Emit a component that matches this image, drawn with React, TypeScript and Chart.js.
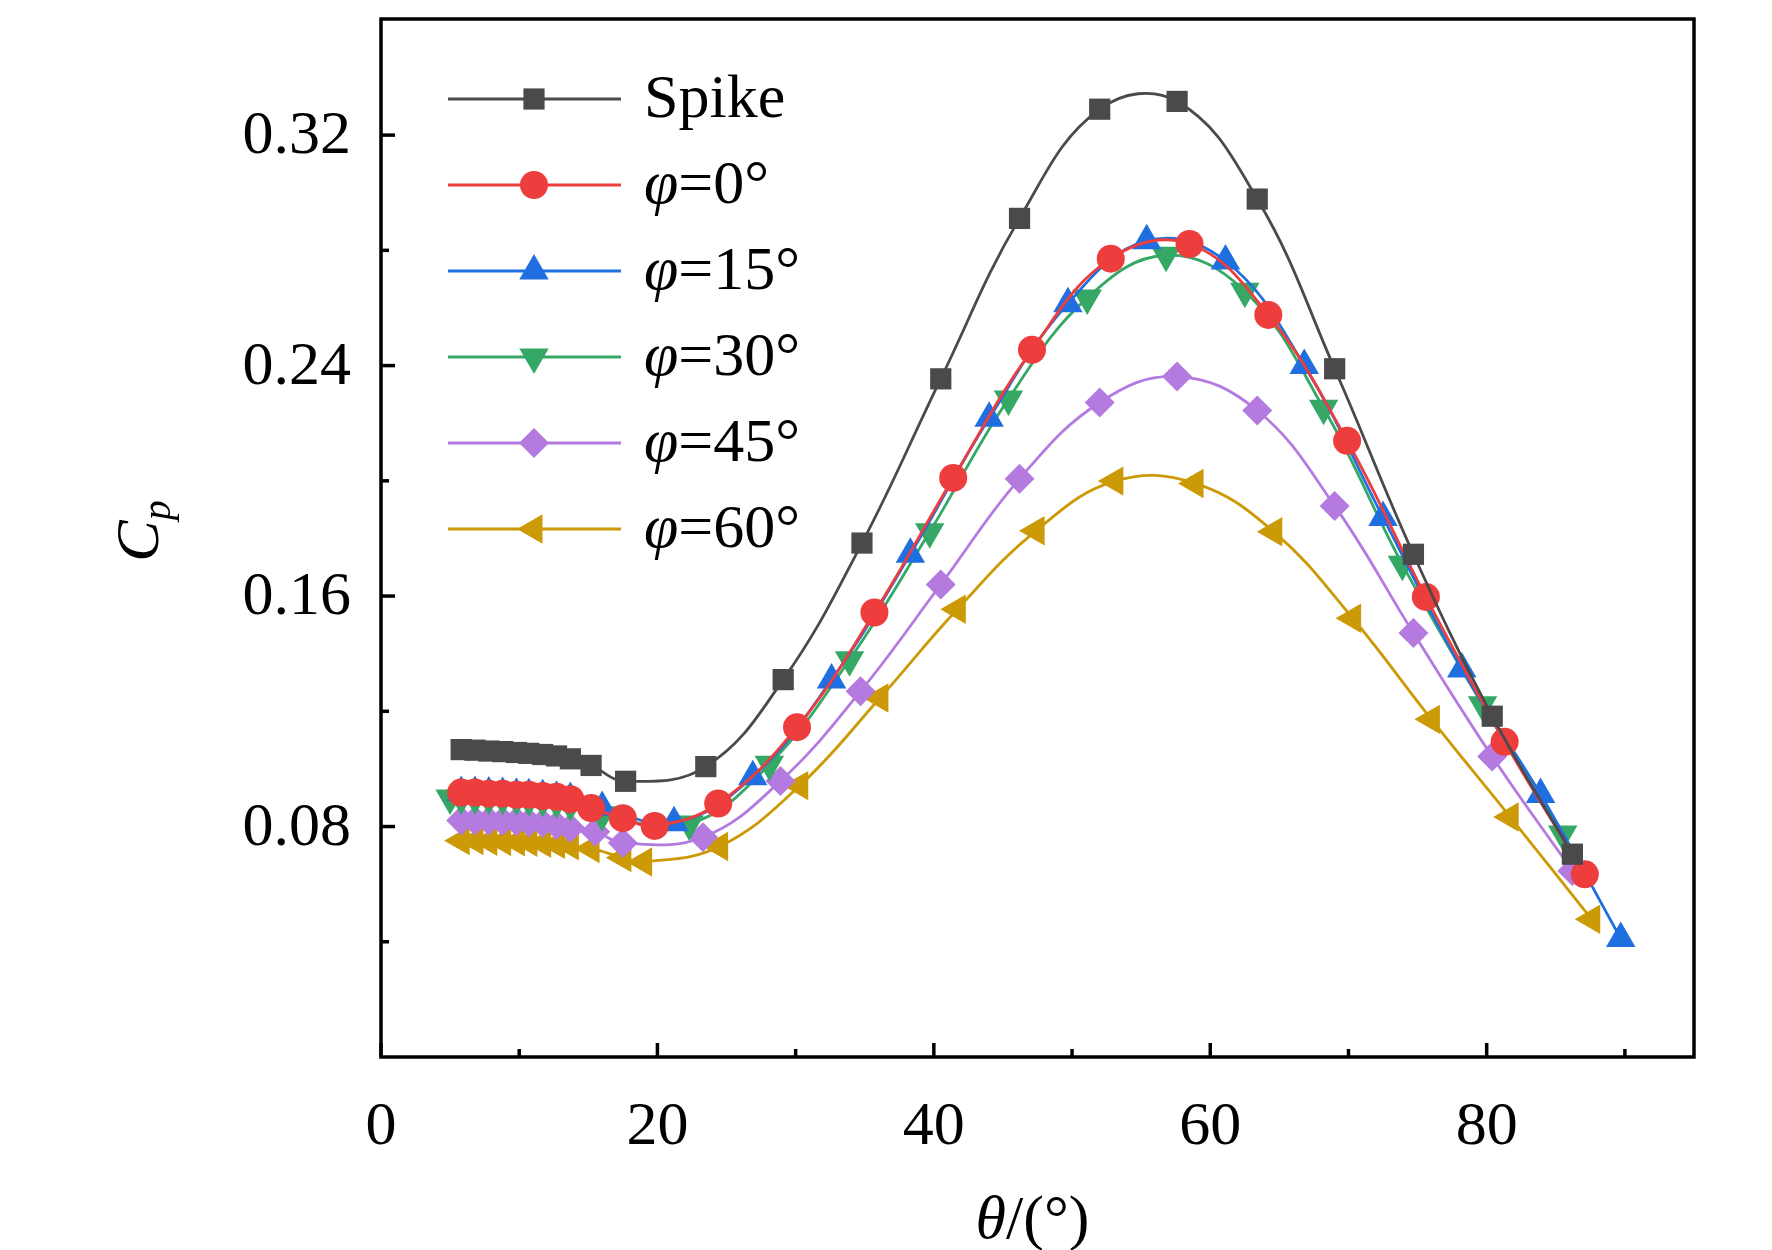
import React, { useEffect, useRef } from "react";
import { Chart, registerables } from "chart.js";
import { drawPoint } from "chart.js/helpers";
Chart.register(...registerables);

const early = [5.8, 6.8, 7.8, 8.8, 9.8, 10.7, 11.7, 12.7, 13.7];
const spikeX = [...early, 15.2, 17.7, 23.5, 29.1, 34.8, 40.5, 46.2, 52, 57.6, 63.4, 69, 74.7, 80.4, 86.2];
const spikeY = [0.1067, 0.1065, 0.1062, 0.106, 0.1057, 0.1054, 0.105, 0.1045, 0.1035, 0.1012, 0.0957, 0.1008, 0.131, 0.1784, 0.2354, 0.2911, 0.329, 0.3317, 0.2978, 0.2389, 0.1745, 0.1183, 0.0704];
const p0X = [...early, 15.2, 17.5, 19.8, 24.4, 30.1, 35.7, 41.4, 47.1, 52.8, 58.5, 64.2, 69.9, 75.6, 81.3, 87.1];
const p0Y = [0.0918, 0.0918, 0.0914, 0.0914, 0.091, 0.091, 0.0906, 0.0903, 0.0895, 0.0864, 0.0829, 0.0802, 0.088, 0.1145, 0.1543, 0.201, 0.2455, 0.2771, 0.2822, 0.2576, 0.2139, 0.1597, 0.1094, 0.0634];
const p15X = [...early, 16, 21.2, 26.9, 32.6, 38.3, 44, 49.7, 55.4, 61.1, 66.8, 72.5, 78.2, 83.9, 89.7];
const p15Y = [0.0918, 0.0918, 0.0916, 0.0915, 0.0912, 0.091, 0.0907, 0.0902, 0.0897, 0.0866, 0.0813, 0.0973, 0.1309, 0.1745, 0.2217, 0.2615, 0.2833, 0.2763, 0.24, 0.1873, 0.1347, 0.0911, 0.0411];
const p30X = [5, ...early, 16, 22.3, 28.1, 33.9, 39.7, 45.4, 51.1, 56.8, 62.5, 68.2, 73.9, 79.7, 85.5];
const p30Y = [0.0899, 0.0899, 0.0899, 0.0898, 0.0897, 0.0896, 0.0893, 0.089, 0.0885, 0.0876, 0.0841, 0.0809, 0.1016, 0.1379, 0.1823, 0.2284, 0.2635, 0.2783, 0.2658, 0.2252, 0.171, 0.1223, 0.0774];
const p45X = [...early, 15.5, 17.5, 23.3, 28.9, 34.7, 40.5, 46.2, 52, 57.6, 63.4, 69, 74.7, 80.4, 86.2];
const p45Y = [0.0821, 0.0821, 0.082, 0.0819, 0.0818, 0.0815, 0.0812, 0.0805, 0.0795, 0.0782, 0.0743, 0.0763, 0.0958, 0.127, 0.164, 0.2007, 0.2272, 0.2362, 0.2244, 0.1913, 0.1472, 0.1043, 0.0646];
const p60X = [...early, 15.2, 17.5, 19.0, 24.5, 30.3, 36.1, 41.7, 47.4, 53.1, 58.9, 64.6, 70.3, 76, 81.7, 87.6];
const p60Y = [0.0751, 0.0751, 0.0749, 0.0748, 0.0747, 0.0745, 0.0742, 0.0738, 0.0733, 0.0724, 0.0692, 0.0677, 0.0731, 0.0942, 0.1246, 0.1554, 0.1827, 0.1999, 0.1991, 0.1823, 0.1523, 0.1172, 0.0833, 0.0478];

const labels = ["Spike", "φ=0°", "φ=15°", "φ=30°", "φ=45°", "φ=60°"];
const colors = ["#4a4a4a", "#ee3d3d", "#1f6fe0", "#35a866", "#b47ae0", "#cc9a06"];
const styles = ["rect", "circle", "triangle", "triangle", "rectRot", "triangle"];
const rots = [0, 0, 0, 180, 0, -90];
const radii = [15, 14, 17, 17, 15, 17];
const xs = [spikeX, p0X, p15X, p30X, p45X, p60X];
const ys = [spikeY, p0Y, p15Y, p30Y, p45Y, p60Y];

const yTicks = [0.08, 0.16, 0.24, 0.32];
const yMinor = [0.04, 0.12, 0.2, 0.28];
const xTicks = [0, 20, 40, 60, 80];
const xMinor = [10, 30, 50, 70, 90];

const FONT = "'Liberation Serif', 'Times New Roman', serif";
const FS = 62;

export default function App() {
  const ref = useRef<HTMLCanvasElement>(null);
  useEffect(() => {
    const deco = {
      id: "deco",
      afterDraw(c: any) {
        const ctx = c.ctx;
        const a = c.chartArea;
        const xs_ = c.scales.x, ys_ = c.scales.y;
        ctx.save();
        ctx.strokeStyle = "#000";
        ctx.lineWidth = 3.5;
        ctx.strokeRect(a.left, a.top + 2, a.right - a.left, a.bottom - a.top - 2);
        const tick = (x1: number, y1: number, x2: number, y2: number) => {
          ctx.beginPath(); ctx.moveTo(x1, y1); ctx.lineTo(x2, y2); ctx.stroke();
        };
        ctx.fillStyle = "#000";
        ctx.font = `${FS}px ${FONT}`;
        yTicks.forEach(v => {
          const y = ys_.getPixelForValue(v); tick(a.left, y, a.left + 14, y);
          ctx.textAlign = "right"; ctx.textBaseline = "middle";
          ctx.fillText(v.toFixed(2), a.left - 30, y + 2);
        });
        yMinor.forEach(v => { const y = ys_.getPixelForValue(v); tick(a.left, y, a.left + 8, y); });
        xTicks.forEach(v => {
          const x = xs_.getPixelForValue(v); tick(x, a.bottom, x, a.bottom - 14);
          ctx.textAlign = "center"; ctx.textBaseline = "top";
          ctx.fillText(String(v), x, a.bottom + 40);
        });
        xMinor.forEach(v => { const x = xs_.getPixelForValue(v); tick(x, a.bottom, x, a.bottom - 8); });
        ctx.textAlign = "left";
        ctx.textBaseline = "alphabetic";
        ctx.font = `italic ${FS}px ${FONT}`;
        const w1 = ctx.measureText("θ").width;
        ctx.font = `${FS}px ${FONT}`;
        const w2 = ctx.measureText("/(°)").width;
        const cx = (a.left + a.right) / 2 - 5;
        const sx = cx - (w1 + w2) / 2;
        ctx.font = `italic ${FS}px ${FONT}`;
        ctx.fillText("θ", sx, 1238);
        ctx.font = `${FS}px ${FONT}`;
        ctx.fillText("/(°)", sx + w1, 1238);
        ctx.save();
        ctx.translate(158, 531);
        ctx.rotate(-Math.PI / 2);
        ctx.font = `italic ${FS}px ${FONT}`;
        const wc = ctx.measureText("C").width;
        ctx.font = `italic 40px ${FONT}`;
        const wp = ctx.measureText("p").width;
        const st = -(wc + wp) / 2;
        ctx.font = `italic ${FS}px ${FONT}`;
        ctx.fillText("C", st, 0);
        ctx.font = `italic 40px ${FONT}`;
        ctx.fillText("p", st + wc, 12);
        ctx.restore();
        labels.forEach((lab, i) => {
          const y = 99 + i * 86;
          ctx.strokeStyle = colors[i];
          ctx.lineWidth = 3;
          tick(448, y, 621, y);
          ctx.fillStyle = colors[i];
          drawPoint(ctx, { pointStyle: styles[i], radius: radii[i], rotation: rots[i], borderWidth: 0 } as any, 534, y);
          ctx.fillStyle = "#000";
          ctx.textBaseline = "middle";
          ctx.textAlign = "left";
          if (i === 0) {
            ctx.font = `${FS}px ${FONT}`;
            ctx.fillText(lab, 644, y + 2);
          } else {
            ctx.font = `italic ${FS}px ${FONT}`;
            ctx.fillText("φ", 644, y + 2);
            const wphi = ctx.measureText("φ").width;
            ctx.font = `${FS}px ${FONT}`;
            ctx.fillText(lab.slice(1), 644 + wphi, y + 2);
          }
        });
        ctx.restore();
      },
    };
    const chart = new Chart(ref.current!, {
      type: "line",
      data: {
        datasets: labels.map((l, i) => ({
          label: l,
          data: xs[i].map((x, j) => ({ x, y: ys[i][j] })),
          borderColor: colors[i],
          backgroundColor: colors[i],
          borderWidth: 2.8,
          pointStyle: styles[i] as any,
          pointRotation: rots[i],
          pointRadius: radii[i],
          pointBorderWidth: 0,
          tension: 0.4,
        })),
      },
      options: {
        animation: false,
        responsive: false,
        layout: { padding: { top: 0, right: 78, left: 0, bottom: 0 } },
        plugins: { legend: { display: false }, tooltip: { enabled: false } },
        scales: {
          x: {
            type: "linear", min: 0, max: 95,
            afterFit: (s: any) => { s.height = 193; },
            grid: { display: false, drawTicks: false },
            border: { display: false },
            ticks: { display: false },
          },
          y: {
            type: "linear", min: 0, max: 0.361,
            afterFit: (s: any) => { s.width = 381; },
            grid: { display: false, drawTicks: false },
            border: { display: false },
            ticks: { display: false },
          },
        },
      },
      plugins: [deco],
    });
    return () => chart.destroy();
  }, []);
  return (
    <canvas
      ref={ref}
      width={1772}
      height={1250}
      style={{ width: 1772, height: 1250, display: "block", position: "absolute", top: 0, left: 0 }}
    />
  );
}
